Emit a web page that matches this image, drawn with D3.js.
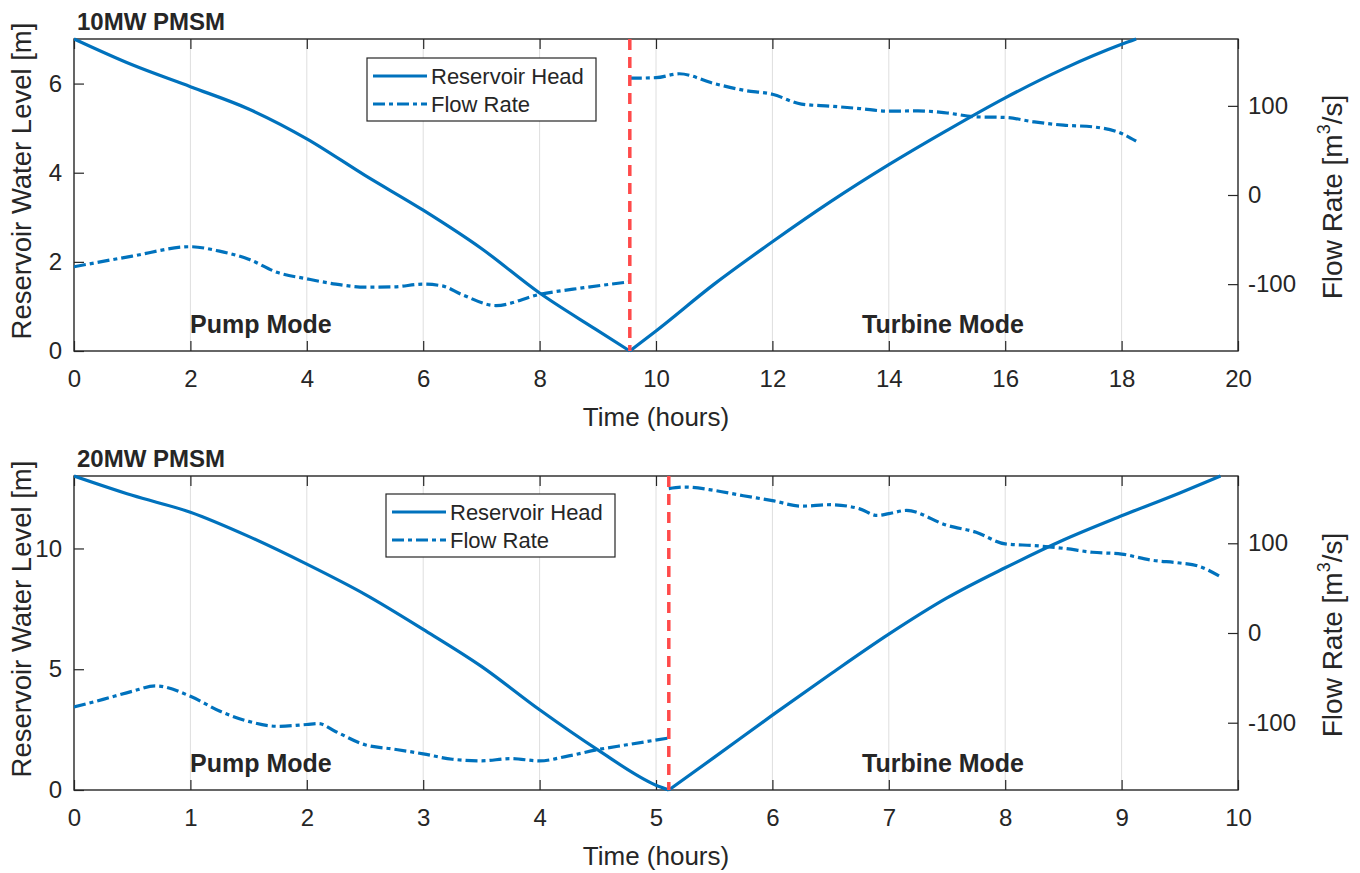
<!DOCTYPE html>
<html>
  <head>
    <meta charset="utf-8">
    <title>Reservoir head and flow rate, 10MW and 20MW PMSM</title>
    <script src="https://d3js.org/d3.v7.min.js"></script>
    <style>
      body { margin: 0; background: #fff; }
      svg { display: block; }
      text { font-family: "Liberation Sans", Arial, Helvetica, sans-serif; fill: #262626; }
    </style>
  </head>
  <body>
    <svg id="chart" width="1360" height="873"></svg>
    <script>
      // values: [hours, value]
      const head10Pump = [[0, 7.0], [1, 6.42], [2, 5.93], [3, 5.43], [4, 4.76], [5, 3.94], [6, 3.16], [7, 2.3], [8, 1.3], [8.96, 0.49], [9.55, 0]];
      const head10Turbine = [[9.55, 0], [10, 0.45], [11, 1.5], [12, 2.45], [13, 3.35], [14, 4.18], [15, 4.95], [16, 5.68], [17, 6.33], [18, 6.88], [18.25, 7.0]];
      const flow10Pump = [[0, -80.5], [1, -68.6], [2, -58], [2.5, -63], [3, -72], [3.5, -87], [4, -94], [4.5, -100], [5, -103.4], [5.5, -103], [6, -100], [6.33, -102], [6.66, -111.5], [7.25, -124], [8, -111.5], [8.76, -104], [9.55, -97.4]];
      const flow10Turbine = [[9.55, 131], [10, 131.6], [10.4, 136], [11, 125], [11.5, 117.6], [12, 113], [12.5, 102], [13, 99.6], [13.5, 97], [14, 94], [14.5, 94.4], [15, 92], [15.5, 87.7], [16, 87], [16.5, 82], [17, 78.3], [17.5, 76.5], [18, 69], [18.25, 60.4]];

      const head20Pump = [[0, 13.0], [0.5, 12.2], [1, 11.5], [1.5, 10.5], [2, 9.35], [2.5, 8.1], [3, 6.65], [3.5, 5.12], [4, 3.32], [4.5, 1.66], [5, 0.2], [5.11, 0]];
      const head20Turbine = [[5.11, 0], [5.5, 1.35], [6, 3.1], [6.5, 4.8], [7, 6.45], [7.5, 7.95], [8, 9.2], [8.5, 10.35], [9, 11.35], [9.5, 12.3], [9.85, 13.0]];
      const flow20Pump = [[0, -82.5], [0.25, -74], [0.5, -65], [0.7, -59], [1, -70.5], [1.25, -87], [1.5, -98.5], [1.75, -104], [2, -102], [2.1, -101], [2.25, -110], [2.5, -124.6], [2.75, -129.5], [3, -134.7], [3.25, -140.7], [3.5, -142.5], [3.75, -140], [4, -142.5], [4.25, -137], [4.5, -130], [4.75, -124.6], [5.11, -117]];
      const flow20Turbine = [[5.11, 161], [5.25, 162.7], [5.5, 159], [5.75, 153], [6, 147.6], [6.25, 141.4], [6.5, 143], [6.75, 138.4], [6.9, 131], [7, 133], [7.15, 136.6], [7.5, 120], [7.75, 112.3], [8, 99.3], [8.25, 97.4], [8.5, 94.4], [8.75, 90], [9, 88], [9.25, 81.3], [9.5, 78], [9.65, 75], [9.85, 62.7]];

      const switch10 = 9.55;
      const switch20 = 5.11;
      const timeTicks10 = [0, 2, 4, 6, 8, 10, 12, 14, 16, 18, 20];
      const timeTicks20 = [0, 1, 2, 3, 4, 5, 6, 7, 8, 9, 10];
      const headTicks10 = [0, 2, 4, 6];
      const headTicks20 = [0, 5, 10];
      const flowTicks = [-100, 0, 100];
      const legendLabels = ["Reservoir Head", "Flow Rate"];

      const svg = d3.select("#chart");
      const blue = "#0072bd";
      const dashDot = "12,4,4,4";
      const left = 74, right = 1238;
      // plain hyphen minus like matlab
      const plain = d => String(d);

      function panel(p) {
        let g = svg.append("g");
        let x = d3.scaleLinear().domain([0, p.tMax]).range([left, right]);
        let y = d3.scaleLinear().domain([0, p.hMax]).range([p.bottom, p.top]);
        let y2 = d3.scaleLinear().domain([-175, 175]).range([p.bottom, p.top]);
        let clipId = "clip" + p.id;
        g.append("clipPath").attr("id", clipId)
          .append("rect")
            .attr("x", left).attr("y", p.top - 2)
            .attr("width", right - left).attr("height", p.bottom - p.top + 4);
        // vertical grid
        g.append("g").selectAll("line")
          .data(p.tTicks.slice(1, -1))
          .join("line")
            .attr("x1", d => x(d)).attr("x2", d => x(d))
            .attr("y1", p.top).attr("y2", p.bottom)
            .attr("stroke", "#dedede").attr("stroke-width", 1);
        // axes, ticks pointing in
        let ax = [
          d3.axisBottom(x).tickValues(p.tTicks).tickFormat(plain).tickSizeInner(-10).tickSizeOuter(0).tickPadding(19),
          d3.axisTop(x).tickValues(p.tTicks).tickSizeInner(-10).tickSizeOuter(0).tickFormat(""),
          d3.axisLeft(y).tickValues(p.hTicks).tickFormat(plain).tickSizeInner(-10).tickSizeOuter(0).tickPadding(12),
          d3.axisRight(y2).tickValues(flowTicks).tickFormat(plain).tickSizeInner(-10).tickSizeOuter(0).tickPadding(10)
        ];
        let pos = ["translate(0," + p.bottom + ")", "translate(0," + p.top + ")", "translate(" + left + ",0)", "translate(" + right + ",0)"];
        ax.forEach(function(a, i) {
          let ag = g.append("g").attr("transform", pos[i]).call(a);
          ag.select(".domain").remove();
          ag.selectAll("line").attr("stroke", "#262626").attr("stroke-width", 1.2);
          ag.selectAll("text").attr("font-size", 24).attr("fill", "#262626")
            .style("font-family", "'Liberation Sans', Arial, sans-serif");
        });
        // box
        g.append("rect")
          .attr("x", left).attr("y", p.top)
          .attr("width", right - left).attr("height", p.bottom - p.top)
          .attr("fill", "none").attr("stroke", "#262626").attr("stroke-width", 1.4);

        let line = function(sc) {
          return d3.line().x(d => x(d[0])).y(d => sc(d[1])).curve(d3.curveMonotoneX);
        };
        let plot = g.append("g").attr("clip-path", "url(#" + clipId + ")");
        [p.flowPump, p.flowTurbine].forEach(function(s) {
          plot.append("path").attr("d", line(y2)(s))
            .attr("fill", "none").attr("stroke", blue).attr("stroke-width", 3.2)
            .attr("stroke-dasharray", dashDot);
        });
        [p.headPump, p.headTurbine].forEach(function(s) {
          plot.append("path").attr("d", line(y)(s))
            .attr("fill", "none").attr("stroke", blue).attr("stroke-width", 3.2);
        });
        // mode switch marker
        g.append("line")
          .attr("x1", x(p.switchAt)).attr("x2", x(p.switchAt))
          .attr("y1", p.top).attr("y2", p.bottom)
          .attr("stroke", "#ff4a4a").attr("stroke-width", 3.5)
          .attr("stroke-dasharray", "11,7");

        // labels
        g.append("text").attr("x", 77).attr("y", p.top - 9)
          .attr("font-size", 24).attr("font-weight", "bold").attr("fill", "#000")
          .text(p.title);
        g.append("text").attr("x", 190).attr("y", p.bottom - 18)
          .attr("font-size", 25).attr("font-weight", "bold").attr("fill", "#000")
          .text("Pump Mode");
        g.append("text").attr("x", 862).attr("y", p.bottom - 18)
          .attr("font-size", 25).attr("font-weight", "bold").attr("fill", "#000")
          .text("Turbine Mode");
        g.append("text")
          .attr("x", (left + right) / 2).attr("y", p.bottom + 75)
          .attr("text-anchor", "middle").attr("font-size", 26)
          .text("Time (hours)");
        g.append("text")
          .attr("transform", "translate(31," + ((p.top + p.bottom) / 2 - 14) + ") rotate(-90)")
          .attr("text-anchor", "middle").attr("font-size", 27.5)
          .text("Reservoir Water Level  [m]");
        let fl = g.append("text")
          .attr("transform", "translate(1342," + ((p.top + p.bottom) / 2 + 2) + ") rotate(-90)")
          .attr("text-anchor", "middle").attr("font-size", 28);
        fl.append("tspan").text("Flow Rate [m");
        fl.append("tspan").attr("font-size", 18).attr("dy", -12).text("3");
        fl.append("tspan").attr("dy", 12).text("/s]");

        // legend
        let lg = g.append("g").attr("transform", "translate(" + p.legendX + "," + p.legendY + ")");
        lg.append("rect").attr("width", 229).attr("height", 63)
          .attr("fill", "#fff").attr("stroke", "#262626").attr("stroke-width", 1.2);
        legendLabels.forEach(function(lab, i) {
          let yy = 18 + i * 28;
          lg.append("line").attr("x1", 6).attr("x2", 60).attr("y1", yy).attr("y2", yy)
            .attr("stroke", blue).attr("stroke-width", 3.2)
            .attr("stroke-dasharray", i == 1 ? dashDot : null);
          lg.append("text").attr("x", 64).attr("y", yy).attr("dy", "0.36em")
            .attr("font-size", 22).text(lab);
        });
      }

      panel({ id: 1, top: 39, bottom: 351, tMax: 20, hMax: 7, tTicks: timeTicks10, hTicks: headTicks10,
              headPump: head10Pump, headTurbine: head10Turbine, flowPump: flow10Pump, flowTurbine: flow10Turbine,
              switchAt: switch10, title: "10MW PMSM", legendX: 367, legendY: 58 });
      panel({ id: 2, top: 476, bottom: 790, tMax: 10, hMax: 13, tTicks: timeTicks20, hTicks: headTicks20,
              headPump: head20Pump, headTurbine: head20Turbine, flowPump: flow20Pump, flowTurbine: flow20Turbine,
              switchAt: switch20, title: "20MW PMSM", legendX: 386, legendY: 494 });
    </script>
  </body>
</html>
